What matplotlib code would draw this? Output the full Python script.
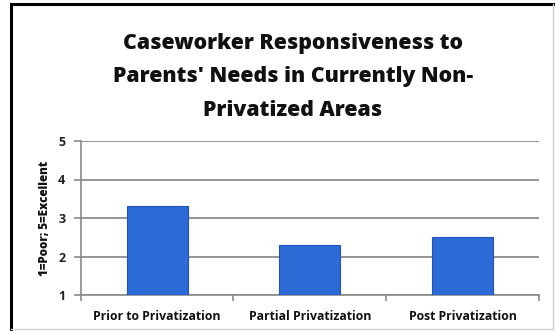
import matplotlib
matplotlib.use("Agg")
import matplotlib.pyplot as plt
from matplotlib.lines import Line2D

categories = ["Prior to Privatization", "Partial Privatization", "Post Privatization"]
values = [3.3, 2.3, 2.5]
yticks = [1, 2, 3, 4, 5]
title = "Caseworker Responsiveness to\nParents' Needs in Currently Non-\nPrivatized Areas"
ylabel = "1=Poor; 5=Excellent"

plt.rcParams['font.family'] = ['Open Sans', 'DejaVu Sans']

fig = plt.figure(figsize=(5.55, 3.31), dpi=100)
fig.patch.set_facecolor('white')

W, H = 555, 331
ax = fig.add_axes([80.7 / W, 1 - 295 / H, (539 - 80.7) / W, (295 - 141) / H])

x = list(range(len(categories)))
ax.bar(x, [v - 1 for v in values], bottom=1, width=0.4, color='#2c6ad6',
       edgecolor='#1f55b8', linewidth=0.8, zorder=3)
ax.set_xlim(-0.5, len(categories) - 0.5)
ax.set_ylim(1, 5)
ax.set_yticks(yticks)
ax.set_yticklabels([str(t) for t in yticks], fontsize=9, fontweight='bold', color='#222222')
ax.set_xticks(x)
ax.set_xticklabels(categories, fontsize=8.8, fontweight='bold', color='#111111')
ax.tick_params(axis='x', length=0, pad=11)
ax.tick_params(axis='y', length=5, width=1.2, color='#8a8a8a', pad=6)
ax.yaxis.grid(True, color='#8c8c8c', linewidth=1.3, zorder=0)
for s in ['top', 'right']:
    ax.spines[s].set_visible(False)
for s in ['left', 'bottom']:
    ax.spines[s].set_color('#8a8a8a')
    ax.spines[s].set_linewidth(1.2)
ax.set_xticks([-0.5, 0.5, 1.5, 2.5], minor=True)
ax.tick_params(axis='x', which='minor', length=4, width=1.2, color='#8a8a8a', direction='out')
ax.set_ylabel(ylabel, fontsize=8.4, fontweight=800, labelpad=5, color='#111111')

fig.text(293 / W, 1 - 77 / H, title, ha='center', va='center', fontsize=15.3,
         fontweight=800, linespacing=1.78, color='#111111')

# frame
fig.add_artist(Line2D([11 / W, 11 / W], [0, 1 - 4 / H], transform=fig.transFigure,
                      color='black', linewidth=2.2))
fig.add_artist(Line2D([11 / W, 1], [1 - 4 / H, 1 - 4 / H], transform=fig.transFigure,
                      color='black', linewidth=2.2))
fig.add_artist(Line2D([553 / W, 553 / W], [2 / H, 1 - 4 / H], transform=fig.transFigure,
                      color='#d0d0d0', linewidth=1.0))
fig.add_artist(Line2D([11 / W, 553 / W], [2 / H, 2 / H], transform=fig.transFigure,
                      color='#d0d0d0', linewidth=1.0))

fig.savefig("out.png", dpi=100, facecolor='white')
